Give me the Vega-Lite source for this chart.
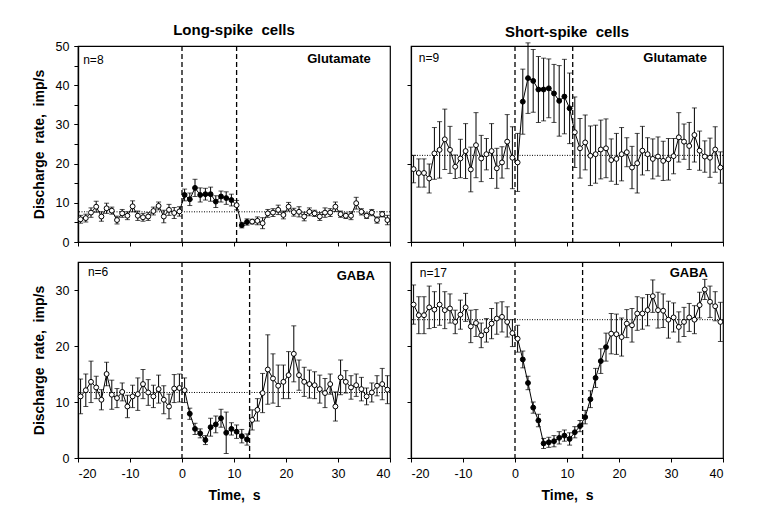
{
"$schema":"https://vega.github.io/schema/vega-lite/v6.json",
"autosize":{"type":"pad"},
"padding":{"left":31,"top":22,"right":5,"bottom":5},
"background":"white",
"columns":2,
"spacing":{"row":20,"column":21},
"bounds":"flush",
"datasets":{
"base":[{"p":"TL","r":7.7},{"p":"TR","r":22.1},{"p":"BL","r":11.7},{"p":"BR","r":24.7}],
"stim":[{"p":"TL","t":0},{"p":"TL","t":10.5},{"p":"TR","t":0},{"p":"TR","t":11.1},{"p":"BL","t":0},{"p":"BL","t":13},{"p":"BR","t":0},{"p":"BR","t":13}],
"lab":[{"p":"TL","n":"n=8","d":"Glutamate"},{"p":"TR","n":"n=9","d":"Glutamate"},{"p":"BL","n":"n=6","d":"GABA"},{"p":"BR","n":"n=17","d":"GABA"}],
"pts":[
{"p":"TL","t":-19.5,"r":5.8,"e":1.0,"f":"o"},{"p":"TL","t":-18.5,"r":6.1,"e":1.0,"f":"o"},{"p":"TL","t":-17.5,"r":7.5,"e":1.2,"f":"o"},{"p":"TL","t":-16.5,"r":9.0,"e":1.4,"f":"o"},{"p":"TL","t":-15.5,"r":6.5,"e":1.2,"f":"o"},{"p":"TL","t":-14.5,"r":8.6,"e":1.3,"f":"o"},{"p":"TL","t":-13.5,"r":8.0,"e":0.9,"f":"o"},{"p":"TL","t":-12.5,"r":5.6,"e":1.0,"f":"o"},{"p":"TL","t":-11.5,"r":7.3,"e":1.0,"f":"o"},{"p":"TL","t":-10.5,"r":6.7,"e":1.0,"f":"o"},
{"p":"TL","t":-9.5,"r":9.1,"e":1.4,"f":"o"},{"p":"TL","t":-8.5,"r":6.7,"e":1.2,"f":"o"},{"p":"TL","t":-7.5,"r":6.3,"e":1.0,"f":"o"},{"p":"TL","t":-6.5,"r":6.5,"e":1.0,"f":"o"},{"p":"TL","t":-5.5,"r":7.9,"e":1.0,"f":"o"},{"p":"TL","t":-4.5,"r":9.2,"e":1.0,"f":"o"},{"p":"TL","t":-3.5,"r":6.5,"e":1.6,"f":"o"},{"p":"TL","t":-2.5,"r":8.2,"e":1.4,"f":"o"},{"p":"TL","t":-1.5,"r":7.4,"e":1.4,"f":"o"},{"p":"TL","t":-0.5,"r":7.8,"e":1.2,"f":"o"},
{"p":"TL","t":0.5,"r":12.0,"e":1.5,"f":"f"},{"p":"TL","t":1.5,"r":10.9,"e":1.6,"f":"f"},{"p":"TL","t":2.5,"r":13.8,"e":2.2,"f":"f"},{"p":"TL","t":3.5,"r":12.0,"e":1.8,"f":"f"},{"p":"TL","t":4.5,"r":12.2,"e":1.5,"f":"f"},{"p":"TL","t":5.5,"r":12.2,"e":1.8,"f":"f"},{"p":"TL","t":6.5,"r":10.3,"e":1.5,"f":"f"},{"p":"TL","t":7.5,"r":11.6,"e":1.4,"f":"f"},{"p":"TL","t":8.5,"r":11.2,"e":1.6,"f":"f"},{"p":"TL","t":9.5,"r":10.7,"e":1.5,"f":"f"},
{"p":"TL","t":10.5,"r":9.4,"e":1.2,"f":"o"},{"p":"TL","t":11.5,"r":4.3,"e":0.7,"f":"f"},{"p":"TL","t":12.5,"r":5.1,"e":0.8,"f":"f"},{"p":"TL","t":13.5,"r":5.2,"e":0.6,"f":"o"},{"p":"TL","t":14.5,"r":5.4,"e":1.0,"f":"o"},{"p":"TL","t":15.5,"r":4.8,"e":1.4,"f":"o"},{"p":"TL","t":16.5,"r":7.3,"e":1.0,"f":"o"},{"p":"TL","t":17.5,"r":7.5,"e":1.0,"f":"o"},{"p":"TL","t":18.5,"r":8.2,"e":1.2,"f":"o"},{"p":"TL","t":19.5,"r":6.9,"e":1.0,"f":"o"},
{"p":"TL","t":20.5,"r":9.0,"e":1.1,"f":"o"},{"p":"TL","t":21.5,"r":7.6,"e":1.0,"f":"o"},{"p":"TL","t":22.5,"r":7.7,"e":1.3,"f":"o"},{"p":"TL","t":23.5,"r":6.5,"e":1.1,"f":"o"},{"p":"TL","t":24.5,"r":7.7,"e":1.0,"f":"o"},{"p":"TL","t":25.5,"r":7.3,"e":0.8,"f":"o"},{"p":"TL","t":26.5,"r":6.5,"e":1.0,"f":"o"},{"p":"TL","t":27.5,"r":7.5,"e":1.2,"f":"o"},{"p":"TL","t":28.5,"r":7.5,"e":1.0,"f":"o"},{"p":"TL","t":29.5,"r":9.0,"e":1.2,"f":"o"},
{"p":"TL","t":30.5,"r":7.1,"e":0.8,"f":"o"},{"p":"TL","t":31.5,"r":6.7,"e":0.7,"f":"o"},{"p":"TL","t":32.5,"r":6.7,"e":1.0,"f":"o"},{"p":"TL","t":33.5,"r":9.9,"e":1.5,"f":"o"},{"p":"TL","t":34.5,"r":7.7,"e":0.8,"f":"o"},{"p":"TL","t":35.5,"r":6.7,"e":0.7,"f":"o"},{"p":"TL","t":36.5,"r":7.5,"e":0.8,"f":"o"},{"p":"TL","t":37.5,"r":5.6,"e":0.8,"f":"o"},{"p":"TL","t":38.5,"r":7.1,"e":0.7,"f":"o"},{"p":"TL","t":39.5,"r":5.6,"e":1.2,"f":"o"},
{"p":"TR","t":-19.5,"r":18.6,"e":3.5,"f":"o"},{"p":"TR","t":-18.5,"r":17.6,"e":3.6,"f":"o"},{"p":"TR","t":-17.5,"r":17.6,"e":3.6,"f":"o"},{"p":"TR","t":-16.5,"r":16.2,"e":3.7,"f":"o"},{"p":"TR","t":-15.5,"r":22.6,"e":6.6,"f":"o"},{"p":"TR","t":-14.5,"r":23.5,"e":7.2,"f":"o"},{"p":"TR","t":-13.5,"r":26.2,"e":7.7,"f":"o"},{"p":"TR","t":-12.5,"r":23.5,"e":6.0,"f":"o"},{"p":"TR","t":-11.5,"r":19.2,"e":3.0,"f":"o"},{"p":"TR","t":-10.5,"r":21.3,"e":4.9,"f":"o"},
{"p":"TR","t":-9.5,"r":23.2,"e":7.0,"f":"o"},{"p":"TR","t":-8.5,"r":18.5,"e":5.7,"f":"o"},{"p":"TR","t":-7.5,"r":24.7,"e":8.3,"f":"o"},{"p":"TR","t":-6.5,"r":21.3,"e":5.9,"f":"o"},{"p":"TR","t":-5.5,"r":22.4,"e":4.0,"f":"o"},{"p":"TR","t":-4.5,"r":23.2,"e":7.0,"f":"o"},{"p":"TR","t":-3.5,"r":18.8,"e":5.1,"f":"o"},{"p":"TR","t":-2.5,"r":20.3,"e":4.0,"f":"o"},{"p":"TR","t":-1.5,"r":25.6,"e":6.9,"f":"o"},{"p":"TR","t":-0.5,"r":21.5,"e":7.9,"f":"o"},
{"p":"TR","t":0.5,"r":20.3,"e":7.4,"f":"o"},{"p":"TR","t":1.5,"r":35.8,"e":8.3,"f":"f"},{"p":"TR","t":2.5,"r":41.8,"e":9.0,"f":"f"},{"p":"TR","t":3.5,"r":41.1,"e":8.0,"f":"f"},{"p":"TR","t":4.5,"r":38.9,"e":8.4,"f":"f"},{"p":"TR","t":5.5,"r":38.9,"e":8.0,"f":"f"},{"p":"TR","t":6.5,"r":39.2,"e":7.5,"f":"f"},{"p":"TR","t":7.5,"r":37.9,"e":7.4,"f":"f"},{"p":"TR","t":8.5,"r":36.0,"e":9.0,"f":"f"},{"p":"TR","t":9.5,"r":37.1,"e":9.5,"f":"f"},
{"p":"TR","t":10.5,"r":34.1,"e":9.0,"f":"f"},{"p":"TR","t":11.5,"r":28.0,"e":9.0,"f":"o"},{"p":"TR","t":12.5,"r":23.9,"e":7.6,"f":"o"},{"p":"TR","t":13.5,"r":25.4,"e":7.0,"f":"o"},{"p":"TR","t":14.5,"r":22.0,"e":7.6,"f":"o"},{"p":"TR","t":15.5,"r":22.4,"e":7.4,"f":"o"},{"p":"TR","t":16.5,"r":23.6,"e":7.5,"f":"o"},{"p":"TR","t":17.5,"r":23.9,"e":7.5,"f":"o"},{"p":"TR","t":18.5,"r":20.9,"e":5.4,"f":"o"},{"p":"TR","t":19.5,"r":21.2,"e":6.5,"f":"o"},
{"p":"TR","t":20.5,"r":22.4,"e":6.8,"f":"o"},{"p":"TR","t":21.5,"r":22.9,"e":3.7,"f":"o"},{"p":"TR","t":22.5,"r":19.0,"e":5.4,"f":"o"},{"p":"TR","t":23.5,"r":20.1,"e":7.6,"f":"o"},{"p":"TR","t":24.5,"r":23.3,"e":6.2,"f":"o"},{"p":"TR","t":25.5,"r":22.4,"e":4.2,"f":"o"},{"p":"TR","t":26.5,"r":21.2,"e":5.1,"f":"o"},{"p":"TR","t":27.5,"r":21.8,"e":5.0,"f":"o"},{"p":"TR","t":28.5,"r":20.7,"e":5.0,"f":"o"},{"p":"TR","t":29.5,"r":21.1,"e":5.3,"f":"o"},
{"p":"TR","t":30.5,"r":21.9,"e":4.5,"f":"o"},{"p":"TR","t":31.5,"r":26.7,"e":6.3,"f":"o"},{"p":"TR","t":32.5,"r":25.6,"e":4.5,"f":"o"},{"p":"TR","t":33.5,"r":24.5,"e":6.0,"f":"o"},{"p":"TR","t":34.5,"r":27.3,"e":6.9,"f":"o"},{"p":"TR","t":35.5,"r":23.3,"e":5.0,"f":"o"},{"p":"TR","t":36.5,"r":21.8,"e":4.0,"f":"o"},{"p":"TR","t":37.5,"r":21.5,"e":5.0,"f":"o"},{"p":"TR","t":38.5,"r":23.6,"e":5.8,"f":"o"},{"p":"TR","t":39.5,"r":19.0,"e":4.0,"f":"o"},
{"p":"BL","t":-19.5,"r":11.0,"e":3.1,"f":"o"},{"p":"BL","t":-18.5,"r":12.1,"e":2.9,"f":"o"},{"p":"BL","t":-17.5,"r":13.6,"e":3.7,"f":"o"},{"p":"BL","t":-16.5,"r":12.6,"e":2.0,"f":"o"},{"p":"BL","t":-15.5,"r":10.4,"e":1.8,"f":"o"},{"p":"BL","t":-14.5,"r":15.0,"e":2.1,"f":"o"},{"p":"BL","t":-13.5,"r":11.3,"e":2.6,"f":"o"},{"p":"BL","t":-12.5,"r":10.7,"e":1.7,"f":"o"},{"p":"BL","t":-11.5,"r":11.8,"e":1.6,"f":"o"},{"p":"BL","t":-10.5,"r":9.2,"e":2.0,"f":"o"},
{"p":"BL","t":-9.5,"r":11.0,"e":2.0,"f":"o"},{"p":"BL","t":-8.5,"r":11.4,"e":2.9,"f":"o"},{"p":"BL","t":-7.5,"r":13.2,"e":2.6,"f":"o"},{"p":"BL","t":-6.5,"r":11.7,"e":2.3,"f":"o"},{"p":"BL","t":-5.5,"r":11.0,"e":2.0,"f":"o"},{"p":"BL","t":-4.5,"r":12.3,"e":2.5,"f":"o"},{"p":"BL","t":-3.5,"r":10.4,"e":2.5,"f":"o"},{"p":"BL","t":-2.5,"r":9.2,"e":2.2,"f":"o"},{"p":"BL","t":-1.5,"r":12.4,"e":2.5,"f":"o"},{"p":"BL","t":-0.5,"r":12.5,"e":2.5,"f":"o"},
{"p":"BL","t":0.5,"r":12.1,"e":2.2,"f":"o"},{"p":"BL","t":1.5,"r":7.9,"e":1.0,"f":"f"},{"p":"BL","t":2.5,"r":5.2,"e":1.0,"f":"f"},{"p":"BL","t":3.5,"r":4.4,"e":0.8,"f":"f"},{"p":"BL","t":4.5,"r":3.2,"e":0.8,"f":"f"},{"p":"BL","t":5.5,"r":5.5,"e":1.6,"f":"f"},{"p":"BL","t":6.5,"r":6.0,"e":1.5,"f":"f"},{"p":"BL","t":7.5,"r":7.1,"e":1.6,"f":"f"},{"p":"BL","t":8.5,"r":4.5,"e":3.7,"f":"f"},{"p":"BL","t":9.5,"r":5.2,"e":1.1,"f":"f"},
{"p":"BL","t":10.5,"r":4.7,"e":1.2,"f":"f"},{"p":"BL","t":11.5,"r":3.9,"e":1.2,"f":"f"},{"p":"BL","t":12.5,"r":3.3,"e":1.0,"f":"f"},{"p":"BL","t":13.5,"r":6.8,"e":1.8,"f":"o"},{"p":"BL","t":14.5,"r":8.6,"e":2.0,"f":"o"},{"p":"BL","t":15.5,"r":11.6,"e":3.5,"f":"o"},{"p":"BL","t":16.5,"r":15.8,"e":6.2,"f":"o"},{"p":"BL","t":17.5,"r":14.2,"e":4.4,"f":"o"},{"p":"BL","t":18.5,"r":12.9,"e":3.7,"f":"o"},{"p":"BL","t":19.5,"r":13.6,"e":3.0,"f":"o"},
{"p":"BL","t":20.5,"r":14.8,"e":4.2,"f":"o"},{"p":"BL","t":21.5,"r":18.6,"e":5.0,"f":"o"},{"p":"BL","t":22.5,"r":14.8,"e":2.7,"f":"o"},{"p":"BL","t":23.5,"r":13.6,"e":2.6,"f":"o"},{"p":"BL","t":24.5,"r":13.2,"e":2.5,"f":"o"},{"p":"BL","t":25.5,"r":13.0,"e":2.4,"f":"o"},{"p":"BL","t":26.5,"r":12.3,"e":2.5,"f":"o"},{"p":"BL","t":27.5,"r":11.6,"e":2.6,"f":"o"},{"p":"BL","t":28.5,"r":13.2,"e":1.8,"f":"o"},{"p":"BL","t":29.5,"r":9.2,"e":2.6,"f":"o"},
{"p":"BL","t":30.5,"r":14.4,"e":3.1,"f":"o"},{"p":"BL","t":31.5,"r":13.6,"e":2.0,"f":"o"},{"p":"BL","t":32.5,"r":12.6,"e":2.1,"f":"o"},{"p":"BL","t":33.5,"r":13.0,"e":2.0,"f":"o"},{"p":"BL","t":34.5,"r":12.3,"e":2.1,"f":"o"},{"p":"BL","t":35.5,"r":11.0,"e":1.5,"f":"o"},{"p":"BL","t":36.5,"r":11.7,"e":1.7,"f":"o"},{"p":"BL","t":37.5,"r":12.9,"e":1.8,"f":"o"},{"p":"BL","t":38.5,"r":13.2,"e":2.8,"f":"o"},{"p":"BL","t":39.5,"r":12.2,"e":2.5,"f":"o"},
{"p":"BR","t":-19.5,"r":27.4,"e":3.5,"f":"o"},{"p":"BR","t":-18.5,"r":25.5,"e":3.3,"f":"o"},{"p":"BR","t":-17.5,"r":25.5,"e":3.3,"f":"o"},{"p":"BR","t":-16.5,"r":26.9,"e":3.8,"f":"o"},{"p":"BR","t":-15.5,"r":26.5,"e":3.2,"f":"o"},{"p":"BR","t":-14.5,"r":27.4,"e":3.7,"f":"o"},{"p":"BR","t":-13.5,"r":26.4,"e":3.3,"f":"o"},{"p":"BR","t":-12.5,"r":26.7,"e":2.6,"f":"o"},{"p":"BR","t":-11.5,"r":24.3,"e":2.1,"f":"o"},{"p":"BR","t":-10.5,"r":25.6,"e":2.6,"f":"o"},
{"p":"BR","t":-9.5,"r":26.9,"e":2.5,"f":"o"},{"p":"BR","t":-8.5,"r":23.5,"e":2.9,"f":"o"},{"p":"BR","t":-7.5,"r":24.1,"e":2.4,"f":"o"},{"p":"BR","t":-6.5,"r":21.9,"e":2.2,"f":"o"},{"p":"BR","t":-5.5,"r":22.8,"e":2.1,"f":"o"},{"p":"BR","t":-4.5,"r":24.0,"e":2.7,"f":"o"},{"p":"BR","t":-3.5,"r":24.9,"e":2.8,"f":"o"},{"p":"BR","t":-2.5,"r":25.2,"e":2.7,"f":"o"},{"p":"BR","t":-1.5,"r":24.3,"e":2.7,"f":"o"},{"p":"BR","t":-0.5,"r":22.3,"e":2.4,"f":"o"},
{"p":"BR","t":0.5,"r":21.3,"e":2.4,"f":"o"},{"p":"BR","t":1.5,"r":17.6,"e":1.5,"f":"f"},{"p":"BR","t":2.5,"r":13.4,"e":1.2,"f":"f"},{"p":"BR","t":3.5,"r":9.0,"e":1.0,"f":"f"},{"p":"BR","t":4.5,"r":6.7,"e":1.1,"f":"f"},{"p":"BR","t":5.5,"r":2.6,"e":0.9,"f":"f"},{"p":"BR","t":6.5,"r":2.8,"e":0.9,"f":"f"},{"p":"BR","t":7.5,"r":3.0,"e":1.0,"f":"f"},{"p":"BR","t":8.5,"r":3.6,"e":1.1,"f":"f"},{"p":"BR","t":9.5,"r":4.0,"e":1.0,"f":"f"},
{"p":"BR","t":10.5,"r":3.4,"e":1.1,"f":"f"},{"p":"BR","t":11.5,"r":4.6,"e":1.0,"f":"f"},{"p":"BR","t":12.5,"r":5.7,"e":1.0,"f":"f"},{"p":"BR","t":13.5,"r":7.3,"e":1.2,"f":"f"},{"p":"BR","t":14.5,"r":10.5,"e":1.5,"f":"f"},{"p":"BR","t":15.5,"r":14.3,"e":1.7,"f":"f"},{"p":"BR","t":16.5,"r":17.3,"e":2.2,"f":"f"},{"p":"BR","t":17.5,"r":19.8,"e":2.5,"f":"f"},{"p":"BR","t":18.5,"r":22.2,"e":3.6,"f":"o"},{"p":"BR","t":19.5,"r":22.1,"e":3.6,"f":"o"},
{"p":"BR","t":20.5,"r":21.6,"e":3.4,"f":"o"},{"p":"BR","t":21.5,"r":24.0,"e":2.5,"f":"o"},{"p":"BR","t":22.5,"r":23.7,"e":3.0,"f":"o"},{"p":"BR","t":23.5,"r":25.8,"e":3.0,"f":"o"},{"p":"BR","t":24.5,"r":25.8,"e":2.8,"f":"o"},{"p":"BR","t":25.5,"r":26.4,"e":2.8,"f":"o"},{"p":"BR","t":26.5,"r":28.9,"e":2.9,"f":"o"},{"p":"BR","t":27.5,"r":26.4,"e":3.2,"f":"o"},{"p":"BR","t":28.5,"r":26.3,"e":3.0,"f":"o"},{"p":"BR","t":29.5,"r":24.7,"e":3.3,"f":"o"},
{"p":"BR","t":30.5,"r":25.1,"e":2.6,"f":"o"},{"p":"BR","t":31.5,"r":23.4,"e":2.7,"f":"o"},{"p":"BR","t":32.5,"r":24.3,"e":2.6,"f":"o"},{"p":"BR","t":33.5,"r":25.1,"e":2.5,"f":"o"},{"p":"BR","t":34.5,"r":24.7,"e":2.5,"f":"o"},{"p":"BR","t":35.5,"r":27.3,"e":2.3,"f":"o"},{"p":"BR","t":36.5,"r":30.1,"e":1.8,"f":"o"},{"p":"BR","t":37.5,"r":27.9,"e":2.8,"f":"o"},{"p":"BR","t":38.5,"r":27.1,"e":2.6,"f":"o"},{"p":"BR","t":39.5,"r":24.3,"e":3.5,"f":"o"}
]},
"concat":[
{"width":312,"height":196,
 "title":{"text":"Long-spike \u00a0cells","fontSize":15,"fontWeight":"bold","offset":2,"color":"black","font":"Liberation Sans"},
 "resolve":{"axis":{"y":"independent"}},
 "layer":[
  {"data":{"name":"base"},"transform":[{"filter":"datum.p==='TL'"}],"mark":{"type":"rule","color":"black","strokeWidth":1,"strokeDash":[1,1.5]},
   "encoding":{"y":{"field":"r","type":"quantitative","scale":{"domain":[0,50],"nice":false},"axis":{"orient":"left","values":[0,5,10,15,20,25,30,35,40,45,50],"labels":false,"title":null}}}},
  {"data":{"name":"stim"},"transform":[{"filter":"datum.p==='TL'"}],"mark":{"type":"rule","color":"black","strokeWidth":1.3,"strokeDash":[5,3]},
   "encoding":{"x":{"field":"t","type":"quantitative","scale":{"domain":[-20,40],"nice":false,"zero":false},"axis":{"values":[-20,-15,-10,-5,0,5,10,15,20,25,30,35,40],"labels":false,"title":null}}}},
  {"data":{"name":"pts"},"transform":[{"filter":"datum.p==='TL'"}],"mark":{"type":"errorbar","color":"black","thickness":1,"ticks":{"size":5,"color":"black","thickness":1}},
   "encoding":{"x":{"field":"t","type":"quantitative","scale":{"domain":[-20,40],"nice":false,"zero":false},"axis":{"values":[-20,-15,-10,-5,0,5,10,15,20,25,30,35,40],"labels":false,"title":null}},"y":{"field":"r","type":"quantitative","scale":{"domain":[0,50],"nice":false},"axis":{"orient":"left","values":[0,10,20,30,40,50],"labelOverlap":false,"title":"Discharge \u00a0rate, \u00a0imp/s"}},"yError":{"field":"e"}}},
  {"data":{"name":"pts"},"transform":[{"filter":"datum.p==='TL'"}],"mark":{"type":"line","color":"black","strokeWidth":1},
   "encoding":{"x":{"field":"t","type":"quantitative","scale":{"domain":[-20,40],"nice":false,"zero":false},"axis":{"values":[-20,-15,-10,-5,0,5,10,15,20,25,30,35,40],"labels":false,"title":null}},"y":{"field":"r","type":"quantitative","scale":{"domain":[0,50],"nice":false},"axis":null}}},
  {"data":{"name":"pts"},"transform":[{"filter":"datum.p==='TL'"}],"mark":{"type":"point","shape":"circle","filled":true,"stroke":"black","strokeWidth":1,"size":24,"opacity":1},
   "encoding":{"x":{"field":"t","type":"quantitative","scale":{"domain":[-20,40],"nice":false,"zero":false},"axis":{"values":[-20,-15,-10,-5,0,5,10,15,20,25,30,35,40],"labels":false,"title":null}},"y":{"field":"r","type":"quantitative","scale":{"domain":[0,50],"nice":false},"axis":null},"fill":{"field":"f","type":"nominal","scale":{"domain":["f","o"],"range":["black","white"]},"legend":null}}},
  {"data":{"name":"lab"},"transform":[{"filter":"datum.p==='TL'"}],"mark":{"type":"text","align":"left","baseline":"middle","fontSize":12,"color":"black"},
   "encoding":{"x":{"datum":-19.0,"type":"quantitative"},"y":{"datum":46.5,"type":"quantitative","axis":null},"text":{"field":"n"}}},
  {"data":{"name":"lab"},"transform":[{"filter":"datum.p==='TL'"}],"mark":{"type":"text","align":"right","baseline":"middle","fontSize":13,"fontWeight":"bold","color":"black"},
   "encoding":{"x":{"datum":36.3,"type":"quantitative"},"y":{"datum":46.6,"type":"quantitative","axis":null},"text":{"field":"d"}}}
 ]},
{"width":312,"height":196,
 "title":{"text":"Short-spike \u00a0cells","fontSize":15,"fontWeight":"bold","offset":2,"color":"black","font":"Liberation Sans"},
 "layer":[
  {"data":{"name":"base"},"transform":[{"filter":"datum.p==='TR'"}],"mark":{"type":"rule","color":"black","strokeWidth":1,"strokeDash":[1,1.5]},
   "encoding":{"y":{"field":"r","type":"quantitative","scale":{"domain":[0,50],"nice":false},"axis":{"values":[0,5,10,15,20,25,30,35,40,45,50],"labels":false,"title":null}}}},
  {"data":{"name":"stim"},"transform":[{"filter":"datum.p==='TR'"}],"mark":{"type":"rule","color":"black","strokeWidth":1.3,"strokeDash":[5,3]},
   "encoding":{"x":{"field":"t","type":"quantitative","scale":{"domain":[-20,40],"nice":false,"zero":false},"axis":{"values":[-20,-15,-10,-5,0,5,10,15,20,25,30,35,40],"labels":false,"title":null}}}},
  {"data":{"name":"pts"},"transform":[{"filter":"datum.p==='TR'"}],"mark":{"type":"errorbar","color":"black","thickness":1,"ticks":{"size":5,"color":"black","thickness":1}},
   "encoding":{"x":{"field":"t","type":"quantitative","scale":{"domain":[-20,40],"nice":false,"zero":false},"axis":{"values":[-20,-15,-10,-5,0,5,10,15,20,25,30,35,40],"labels":false,"title":null}},"y":{"field":"r","type":"quantitative","scale":{"domain":[0,50],"nice":false},"axis":{"values":[0,5,10,15,20,25,30,35,40,45,50],"labels":false,"title":null}},"yError":{"field":"e"}}},
  {"data":{"name":"pts"},"transform":[{"filter":"datum.p==='TR'"}],"mark":{"type":"line","color":"black","strokeWidth":1},
   "encoding":{"x":{"field":"t","type":"quantitative","scale":{"domain":[-20,40],"nice":false,"zero":false},"axis":{"values":[-20,-15,-10,-5,0,5,10,15,20,25,30,35,40],"labels":false,"title":null}},"y":{"field":"r","type":"quantitative","scale":{"domain":[0,50],"nice":false},"axis":{"values":[0,5,10,15,20,25,30,35,40,45,50],"labels":false,"title":null}}}},
  {"data":{"name":"pts"},"transform":[{"filter":"datum.p==='TR'"}],"mark":{"type":"point","shape":"circle","filled":true,"stroke":"black","strokeWidth":1,"size":24,"opacity":1},
   "encoding":{"x":{"field":"t","type":"quantitative","scale":{"domain":[-20,40],"nice":false,"zero":false},"axis":{"values":[-20,-15,-10,-5,0,5,10,15,20,25,30,35,40],"labels":false,"title":null}},"y":{"field":"r","type":"quantitative","scale":{"domain":[0,50],"nice":false},"axis":{"values":[0,5,10,15,20,25,30,35,40,45,50],"labels":false,"title":null}},"fill":{"field":"f","type":"nominal","scale":{"domain":["f","o"],"range":["black","white"]},"legend":null}}},
  {"data":{"name":"lab"},"transform":[{"filter":"datum.p==='TR'"}],"mark":{"type":"text","align":"left","baseline":"middle","fontSize":12,"color":"black"},
   "encoding":{"x":{"datum":-18.5,"type":"quantitative"},"y":{"datum":47.0,"type":"quantitative"},"text":{"field":"n"}}},
  {"data":{"name":"lab"},"transform":[{"filter":"datum.p==='TR'"}],"mark":{"type":"text","align":"right","baseline":"middle","fontSize":13,"fontWeight":"bold","color":"black"},
   "encoding":{"x":{"datum":36.9,"type":"quantitative"},"y":{"datum":47.0,"type":"quantitative"},"text":{"field":"d"}}}
 ]},
{"width":312,"height":196,
 "layer":[
  {"data":{"name":"base"},"transform":[{"filter":"datum.p==='BL'"}],"mark":{"type":"rule","color":"black","strokeWidth":1,"strokeDash":[1,1.5]},
   "encoding":{"y":{"field":"r","type":"quantitative","scale":{"domain":[0,35],"nice":false},"axis":{"values":[0,5,10,15,20,25,30,35],"labelOverlap":false,"labelExpr":"datum.value % 10 === 0 ? '' + datum.value : ''","title":"Discharge \u00a0rate, \u00a0imp/s"}}}},
  {"data":{"name":"stim"},"transform":[{"filter":"datum.p==='BL'"}],"mark":{"type":"rule","color":"black","strokeWidth":1.3,"strokeDash":[5,3]},
   "encoding":{"x":{"field":"t","type":"quantitative","scale":{"domain":[-20,40],"nice":false,"zero":false},"axis":{"values":[-20,-15,-10,-5,0,5,10,15,20,25,30,35,40],"labelOverlap":false,"labelExpr":"datum.value % 10 === 0 ? '' + datum.value : ''","title":"Time, \u00a0s"}}}},
  {"data":{"name":"pts"},"transform":[{"filter":"datum.p==='BL'"}],"mark":{"type":"errorbar","color":"black","thickness":1,"ticks":{"size":5,"color":"black","thickness":1}},
   "encoding":{"x":{"field":"t","type":"quantitative","scale":{"domain":[-20,40],"nice":false,"zero":false},"axis":{"values":[-20,-15,-10,-5,0,5,10,15,20,25,30,35,40],"labelOverlap":false,"labelExpr":"datum.value % 10 === 0 ? '' + datum.value : ''","title":"Time, \u00a0s"}},"y":{"field":"r","type":"quantitative","scale":{"domain":[0,35],"nice":false},"axis":{"values":[0,5,10,15,20,25,30,35],"labelOverlap":false,"labelExpr":"datum.value % 10 === 0 ? '' + datum.value : ''","title":"Discharge \u00a0rate, \u00a0imp/s"}},"yError":{"field":"e"}}},
  {"data":{"name":"pts"},"transform":[{"filter":"datum.p==='BL'"}],"mark":{"type":"line","color":"black","strokeWidth":1},
   "encoding":{"x":{"field":"t","type":"quantitative","scale":{"domain":[-20,40],"nice":false,"zero":false},"axis":{"values":[-20,-15,-10,-5,0,5,10,15,20,25,30,35,40],"labelOverlap":false,"labelExpr":"datum.value % 10 === 0 ? '' + datum.value : ''","title":"Time, \u00a0s"}},"y":{"field":"r","type":"quantitative","scale":{"domain":[0,35],"nice":false},"axis":{"values":[0,5,10,15,20,25,30,35],"labelOverlap":false,"labelExpr":"datum.value % 10 === 0 ? '' + datum.value : ''","title":"Discharge \u00a0rate, \u00a0imp/s"}}}},
  {"data":{"name":"pts"},"transform":[{"filter":"datum.p==='BL'"}],"mark":{"type":"point","shape":"circle","filled":true,"stroke":"black","strokeWidth":1,"size":24,"opacity":1},
   "encoding":{"x":{"field":"t","type":"quantitative","scale":{"domain":[-20,40],"nice":false,"zero":false},"axis":{"values":[-20,-15,-10,-5,0,5,10,15,20,25,30,35,40],"labelOverlap":false,"labelExpr":"datum.value % 10 === 0 ? '' + datum.value : ''","title":"Time, \u00a0s"}},"y":{"field":"r","type":"quantitative","scale":{"domain":[0,35],"nice":false},"axis":{"values":[0,5,10,15,20,25,30,35],"labelOverlap":false,"labelExpr":"datum.value % 10 === 0 ? '' + datum.value : ''","title":"Discharge \u00a0rate, \u00a0imp/s"}},"fill":{"field":"f","type":"nominal","scale":{"domain":["f","o"],"range":["black","white"]},"legend":null}}},
  {"data":{"name":"lab"},"transform":[{"filter":"datum.p==='BL'"}],"mark":{"type":"text","align":"left","baseline":"middle","fontSize":12,"color":"black"},
   "encoding":{"x":{"datum":-18.1,"type":"quantitative"},"y":{"datum":33.3,"type":"quantitative"},"text":{"field":"n"}}},
  {"data":{"name":"lab"},"transform":[{"filter":"datum.p==='BL'"}],"mark":{"type":"text","align":"right","baseline":"middle","fontSize":13,"fontWeight":"bold","color":"black"},
   "encoding":{"x":{"datum":37.1,"type":"quantitative"},"y":{"datum":32.5,"type":"quantitative"},"text":{"field":"d"}}}
 ]},
{"width":312,"height":196,
 "layer":[
  {"data":{"name":"base"},"transform":[{"filter":"datum.p==='BR'"}],"mark":{"type":"rule","color":"black","strokeWidth":1,"strokeDash":[1,1.5]},
   "encoding":{"y":{"field":"r","type":"quantitative","scale":{"domain":[0,35],"nice":false},"axis":{"values":[0,5,10,15,20,25,30,35],"labels":false,"title":null}}}},
  {"data":{"name":"stim"},"transform":[{"filter":"datum.p==='BR'"}],"mark":{"type":"rule","color":"black","strokeWidth":1.3,"strokeDash":[5,3]},
   "encoding":{"x":{"field":"t","type":"quantitative","scale":{"domain":[-20,40],"nice":false,"zero":false},"axis":{"values":[-20,-15,-10,-5,0,5,10,15,20,25,30,35,40],"labelOverlap":false,"labelExpr":"datum.value % 10 === 0 ? '' + datum.value : ''","title":"Time, \u00a0s"}}}},
  {"data":{"name":"pts"},"transform":[{"filter":"datum.p==='BR'"}],"mark":{"type":"errorbar","color":"black","thickness":1,"ticks":{"size":5,"color":"black","thickness":1}},
   "encoding":{"x":{"field":"t","type":"quantitative","scale":{"domain":[-20,40],"nice":false,"zero":false},"axis":{"values":[-20,-15,-10,-5,0,5,10,15,20,25,30,35,40],"labelOverlap":false,"labelExpr":"datum.value % 10 === 0 ? '' + datum.value : ''","title":"Time, \u00a0s"}},"y":{"field":"r","type":"quantitative","scale":{"domain":[0,35],"nice":false},"axis":{"values":[0,5,10,15,20,25,30,35],"labels":false,"title":null}},"yError":{"field":"e"}}},
  {"data":{"name":"pts"},"transform":[{"filter":"datum.p==='BR'"}],"mark":{"type":"line","color":"black","strokeWidth":1},
   "encoding":{"x":{"field":"t","type":"quantitative","scale":{"domain":[-20,40],"nice":false,"zero":false},"axis":{"values":[-20,-15,-10,-5,0,5,10,15,20,25,30,35,40],"labelOverlap":false,"labelExpr":"datum.value % 10 === 0 ? '' + datum.value : ''","title":"Time, \u00a0s"}},"y":{"field":"r","type":"quantitative","scale":{"domain":[0,35],"nice":false},"axis":{"values":[0,5,10,15,20,25,30,35],"labels":false,"title":null}}}},
  {"data":{"name":"pts"},"transform":[{"filter":"datum.p==='BR'"}],"mark":{"type":"point","shape":"circle","filled":true,"stroke":"black","strokeWidth":1,"size":24,"opacity":1},
   "encoding":{"x":{"field":"t","type":"quantitative","scale":{"domain":[-20,40],"nice":false,"zero":false},"axis":{"values":[-20,-15,-10,-5,0,5,10,15,20,25,30,35,40],"labelOverlap":false,"labelExpr":"datum.value % 10 === 0 ? '' + datum.value : ''","title":"Time, \u00a0s"}},"y":{"field":"r","type":"quantitative","scale":{"domain":[0,35],"nice":false},"axis":{"values":[0,5,10,15,20,25,30,35],"labels":false,"title":null}},"fill":{"field":"f","type":"nominal","scale":{"domain":["f","o"],"range":["black","white"]},"legend":null}}},
  {"data":{"name":"lab"},"transform":[{"filter":"datum.p==='BR'"}],"mark":{"type":"text","align":"left","baseline":"middle","fontSize":12,"color":"black"},
   "encoding":{"x":{"datum":-18.3,"type":"quantitative"},"y":{"datum":33.0,"type":"quantitative"},"text":{"field":"n"}}},
  {"data":{"name":"lab"},"transform":[{"filter":"datum.p==='BR'"}],"mark":{"type":"text","align":"right","baseline":"middle","fontSize":13,"fontWeight":"bold","color":"black"},
   "encoding":{"x":{"datum":37.1,"type":"quantitative"},"y":{"datum":33.0,"type":"quantitative"},"text":{"field":"d"}}}
 ]}
],
"config":{
 "font":"Liberation Sans",
 "view":{"stroke":"black","strokeWidth":1.2},
 "axis":{"grid":false,"domainColor":"black","domainWidth":1.2,"tickColor":"black","tickWidth":1,"tickSize":4,"labelColor":"black","titleColor":"black","labelFontSize":12.5,"titleFontSize":14,"titleFontWeight":"bold","labelPadding":5,"titlePadding":9,"labelOverlap":false,"labelFont":"Liberation Sans","titleFont":"Liberation Sans"},
 "text":{"font":"Liberation Sans"}
}
}
